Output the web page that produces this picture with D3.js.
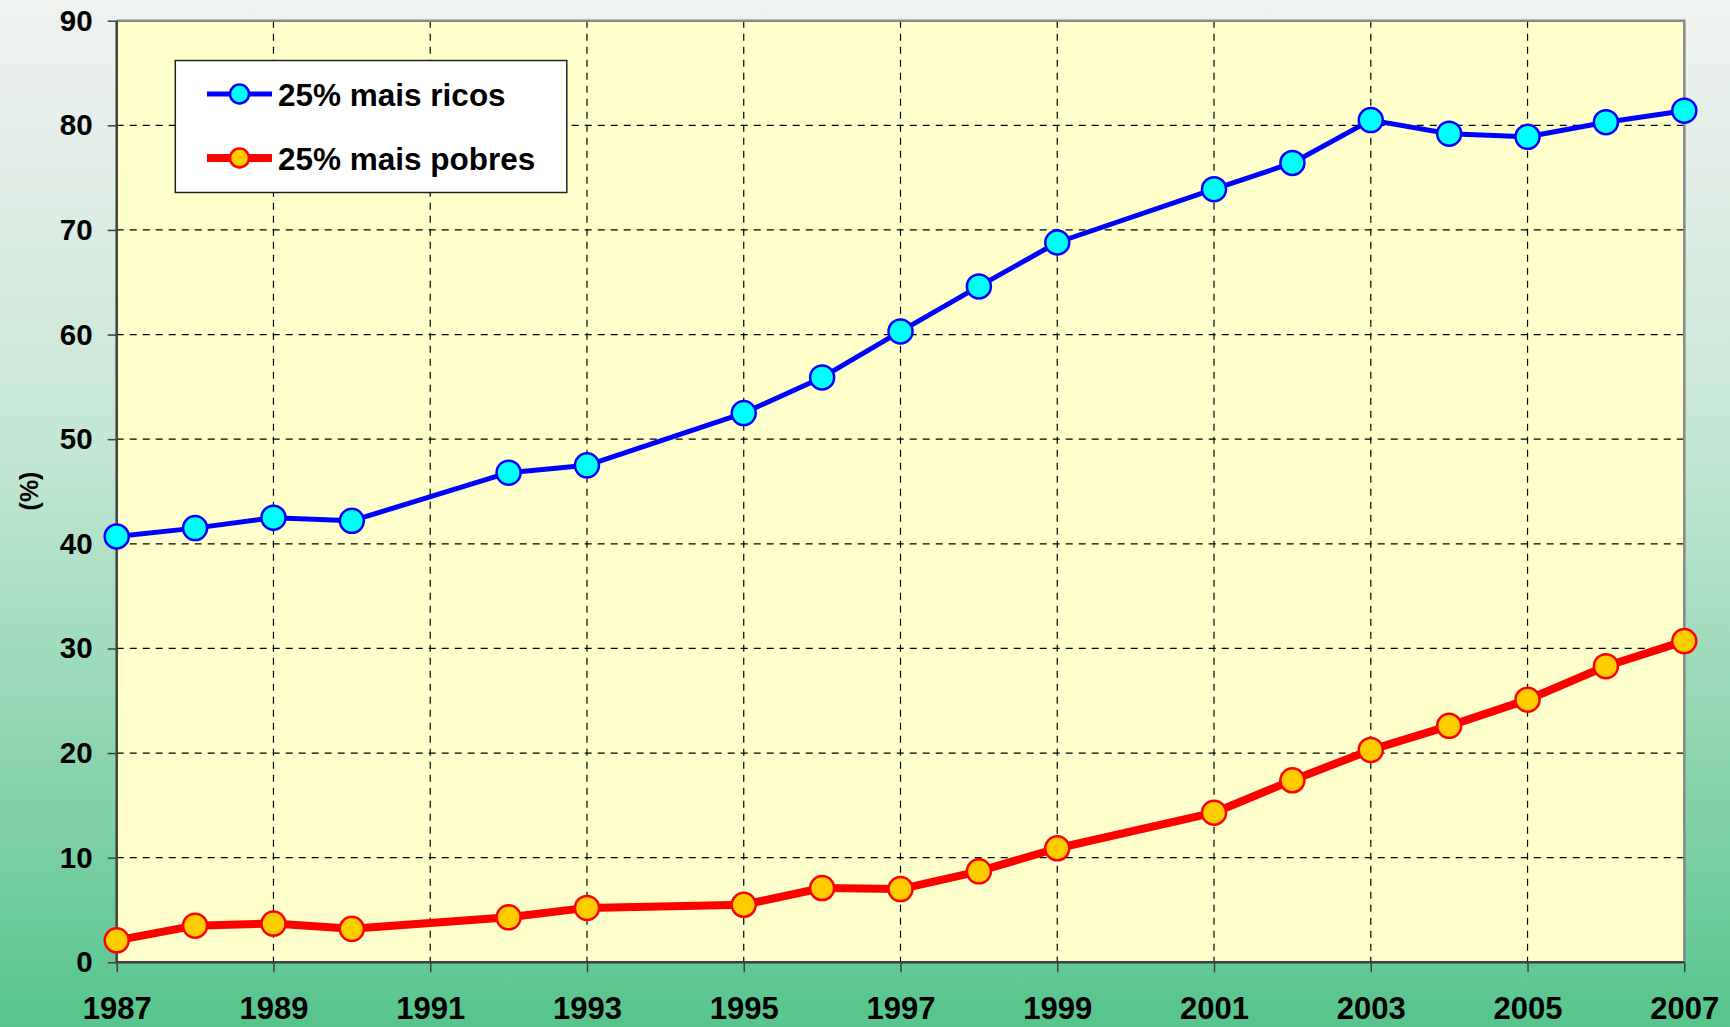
<!DOCTYPE html>
<html>
<head>
<meta charset="utf-8">
<script src="https://cdn.jsdelivr.net/npm/d3@7"></script>
<style>
  html, body { margin: 0; padding: 0; }
  body { width: 1730px; height: 1027px; overflow: hidden; }
  svg { display: block; }
  text { font-family: "Liberation Sans", Arial, sans-serif; font-weight: bold; fill: #000; }
</style>
</head>
<body>
<svg id="chart" width="1730" height="1027"></svg>
<script>
// ---- data ----
const years = [1987, 1988, 1989, 1990, 1992, 1993, 1995, 1996, 1997, 1998, 1999, 2001, 2002, 2003, 2004, 2005, 2006, 2007];
const ricos = [40.7, 41.5, 42.5, 42.2, 46.8, 47.5, 52.5, 55.9, 60.3, 64.6, 68.8, 73.9, 76.4, 80.5, 79.2, 78.9, 80.3, 81.4];
const pobres = [2.1, 3.5, 3.7, 3.2, 4.3, 5.2, 5.5, 7.1, 7.0, 8.7, 10.9, 14.3, 17.4, 20.3, 22.6, 25.1, 28.3, 30.7];
const xTicks = [1987, 1989, 1991, 1993, 1995, 1997, 1999, 2001, 2003, 2005, 2007];
const yTicks = [0, 10, 20, 30, 40, 50, 60, 70, 80, 90];
const seriesNames = ["25% mais ricos", "25% mais pobres"];
const yLabel = "(%)";

// ---- layout ----
const W = 1730, H = 1027;
const L = 116.7, R = 1684.3, T = 20.7, B = 962.3;

const svg = d3.select("#chart");
const defs = svg.append("defs");
const grad = defs.append("linearGradient").attr("id", "bg").attr("x1", 0).attr("y1", 0).attr("x2", 0).attr("y2", 1);
[[0, "#eff3f0"], [0.12, "#e6efea"], [0.45, "#c2e6d3"], [0.7, "#93d7b3"], [1, "#56c58c"]].forEach(([o, c]) =>
  grad.append("stop").attr("offset", o).attr("stop-color", c));
svg.append("rect").attr("width", W).attr("height", H).attr("fill", "url(#bg)");

const x = d3.scaleLinear().domain([1987, 2007]).range([L, R]);
const y = d3.scaleLinear().domain([0, 90]).range([B, T]);

// plot area
svg.append("rect").attr("x", L).attr("y", T).attr("width", R - L).attr("height", B - T).attr("fill", "#ffffcc");

// grid
const grid = svg.append("g");
grid.selectAll("line.h").data(yTicks.filter(v => v > 0 && v < 90)).join("line")
  .attr("x1", L).attr("x2", R).attr("y1", d => y(d)).attr("y2", d => y(d))
  .attr("stroke", "#000").attr("stroke-width", 1.2).attr("stroke-dasharray", "7,6");
grid.selectAll("line.v").data(xTicks.filter(v => v > 1987 && v < 2007)).join("line")
  .attr("y1", T).attr("y2", B).attr("x1", d => x(d)).attr("x2", d => x(d))
  .attr("stroke", "#000").attr("stroke-width", 1.2).attr("stroke-dasharray", "7,6");

// top/right border
svg.append("path").attr("d", `M${L},${T}H${R}V${B}`).attr("fill", "none").attr("stroke", "#888").attr("stroke-width", 2.5);

// axes
const yAxis = d3.axisLeft(y).tickValues(yTicks).tickSize(9).tickPadding(15).tickFormat(d3.format("d"));
const gy = svg.append("g").attr("transform", `translate(${L},0)`).call(yAxis);
const xAxis = d3.axisBottom(x).tickValues(xTicks).tickSize(10).tickPadding(25).tickFormat(d3.format("d"));
const gx = svg.append("g").attr("transform", `translate(0,${B})`).call(xAxis);
[gx, gy].forEach(g => {
  g.select(".domain").attr("stroke", "#404040").attr("stroke-width", 2.5);
  g.selectAll(".tick line").attr("stroke", "#404040").attr("stroke-width", 1.5);
  g.selectAll(".tick text").style("font-family", '"Liberation Sans", Arial, sans-serif')
    .style("font-weight", "bold").attr("fill", "#000");
});
gy.selectAll(".tick text").style("font-size", "29.5px");
gx.selectAll(".tick text").style("font-size", "31px");
gx.select(".domain").attr("d", `M${L},0H${R}`);
gy.select(".domain").attr("d", `M0,${B}V${T}`);

// y label
svg.append("text").attr("transform", `translate(38,491) rotate(-90)`).attr("text-anchor", "middle")
  .style("font-size", "25px").text(yLabel);

// series
const line = d3.line().x(d => x(d[0])).y(d => y(d[1]));
const series = [
  { name: seriesNames[0], vals: ricos, stroke: "#0000ff", fill: "#00ffff", lw: 5 },
  { name: seriesNames[1], vals: pobres, stroke: "#ff0000", fill: "#ffcc00", lw: 8 }
];
series.forEach(s => {
  const pts = years.map((yr, i) => [yr, s.vals[i]]);
  svg.append("path").datum(pts).attr("d", line).attr("fill", "none")
    .attr("stroke", s.stroke).attr("stroke-width", s.lw).attr("stroke-linejoin", "round");
  svg.append("g").selectAll("circle").data(pts).join("circle")
    .attr("cx", d => x(d[0])).attr("cy", d => y(d[1])).attr("r", 12)
    .attr("fill", s.fill).attr("stroke", s.stroke).attr("stroke-width", 2.5);
});

// legend
const lg = svg.append("g");
lg.append("rect").attr("x", 175.3).attr("y", 60.5).attr("width", 391.5).attr("height", 132)
  .attr("fill", "#fff").attr("stroke", "#222").attr("stroke-width", 1.5);
series.forEach((s, i) => {
  const cy = 94 + i * 64;
  lg.append("line").attr("x1", 207).attr("x2", 272).attr("y1", cy).attr("y2", cy)
    .attr("stroke", s.stroke).attr("stroke-width", s.lw);
  lg.append("circle").attr("cx", 239.5).attr("cy", cy).attr("r", 9.5)
    .attr("fill", s.fill).attr("stroke", s.stroke).attr("stroke-width", 2.5);
  lg.append("text").attr("x", 278).attr("y", cy + 1).attr("dy", "0.36em").style("font-size", "31.5px").text(s.name);
});
</script>
</body>
</html>
